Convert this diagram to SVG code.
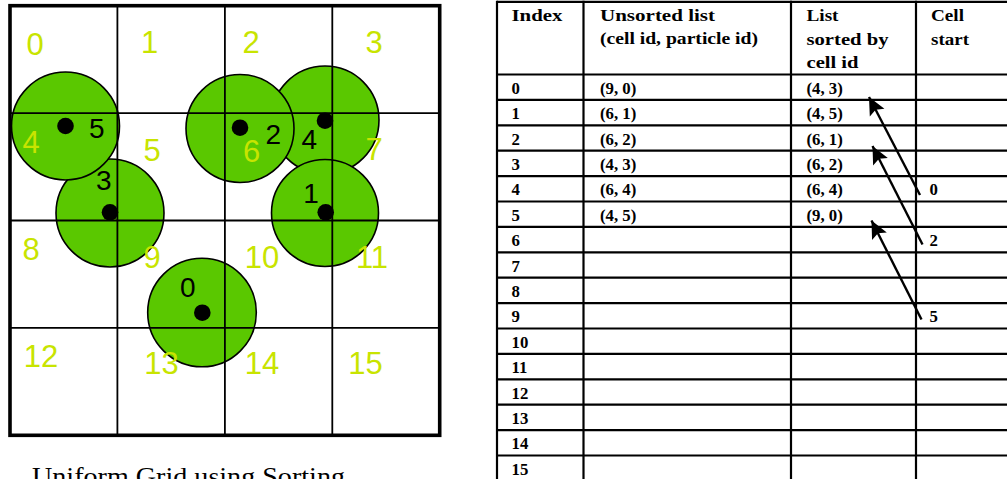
<svg xmlns="http://www.w3.org/2000/svg" width="1007" height="479" viewBox="0 0 1007 479">
<style>
.bg{fill:#ffffff}
.disc{fill:#5AC800;stroke:#000;stroke-width:1.6}
.dot{fill:#000}
.gl{stroke:#000;stroke-width:1.8;fill:none}
.gb{stroke:#000;stroke-width:3.6;fill:none}
.cl{font-family:"Liberation Sans",Arial,sans-serif;font-size:31px;fill:#C8E400;text-anchor:middle}
.pl{font-family:"Liberation Sans",Arial,sans-serif;font-size:28px;fill:#000;text-anchor:middle}
.tl{stroke:#000;stroke-width:2.2;fill:none}
.th{font-family:"Liberation Serif","Times New Roman",serif;font-size:17px;font-weight:bold;fill:#000}
.td{font-family:"Liberation Serif","Times New Roman",serif;font-size:16.8px;font-weight:bold;fill:#000}
.cap{font-family:"Liberation Serif","Times New Roman",serif;font-size:26px;fill:#000}
.arr{stroke:#000;stroke-width:2.4;fill:none;marker-end:url(#ah)}
</style>
<defs>
<marker id="ah" markerUnits="userSpaceOnUse" markerWidth="22" markerHeight="22" refX="0" refY="0" orient="auto" viewBox="-18 -9 20 18" overflow="visible">
<path d="M-16,-7.5 L0,0 L-16,7.5 L-13,0 z" fill="#000"/>
</marker>
</defs>
<rect class="bg" x="0" y="0" width="1007" height="479"/>

<g id="particles">
<g id="particle-4"><circle class="disc" cx="325" cy="120" r="54"/></g>
<g id="particle-1"><circle class="disc" cx="325" cy="213" r="53.5"/></g>
<g id="particle-2"><circle class="disc" cx="240" cy="128.5" r="54"/></g>
<g id="particle-3"><circle class="disc" cx="110" cy="213" r="54"/></g>
<g id="particle-5"><circle class="disc" cx="65.5" cy="126" r="54"/></g>
<g id="particle-0"><circle class="disc" cx="202" cy="312.5" r="54.3"/></g>
</g>

<g id="grid">
<line class="gl" x1="117.4" y1="5.7" x2="117.4" y2="435.3"/>
<line class="gl" x1="224.9" y1="5.7" x2="224.9" y2="435.3"/>
<line class="gl" x1="332.3" y1="5.7" x2="332.3" y2="435.3"/>
<line class="gl" x1="10" y1="113.1" x2="439.7" y2="113.1"/>
<line class="gl" x1="10" y1="220.5" x2="439.7" y2="220.5"/>
<line class="gl" x1="10" y1="327.9" x2="439.7" y2="327.9"/>
<rect class="gb" x="10" y="5.7" width="429.7" height="429.6"/>
</g>

<g id="cell-labels">
<text class="cl" x="35" y="55">0</text>
<text class="cl" x="149.5" y="53">1</text>
<text class="cl" x="251" y="53">2</text>
<text class="cl" x="374" y="53">3</text>
<text class="cl" x="31" y="153">4</text>
<text class="cl" x="152" y="161">5</text>
<text class="cl" x="251.7" y="162">6</text>
<text class="cl" x="374" y="160">7</text>
<text class="cl" x="31" y="259.5">8</text>
<text class="cl" x="152" y="268">9</text>
<text class="cl" x="262" y="268">10</text>
<text class="cl" x="372" y="268">11</text>
<text class="cl" x="41" y="367">12</text>
<text class="cl" x="161.5" y="374">13</text>
<text class="cl" x="262" y="374">14</text>
<text class="cl" x="365.5" y="374">15</text>
</g>

<g id="particle-marks">
<circle class="dot" cx="65.5" cy="126" r="8.3"/>
<circle class="dot" cx="110" cy="212.3" r="8.3"/>
<circle class="dot" cx="240" cy="127.7" r="8.3"/>
<circle class="dot" cx="325" cy="120.7" r="8.3"/>
<circle class="dot" cx="325.7" cy="212.3" r="8.3"/>
<circle class="dot" cx="202.3" cy="312.7" r="8.3"/>
<text class="pl" x="96.7" y="138">5</text>
<text class="pl" x="273.3" y="144">2</text>
<text class="pl" x="309.3" y="149">4</text>
<text class="pl" x="103.7" y="190">3</text>
<text class="pl" x="311" y="203">1</text>
<text class="pl" x="187.7" y="297">0</text>
</g>

<text class="cap" x="32" y="485" textLength="313" lengthAdjust="spacingAndGlyphs">Uniform Grid using Sorting</text>

<g id="table">
<g id="table-lines">
<line class="tl" x1="497" y1="1.8" x2="1007" y2="1.8"/>
<line class="tl" x1="497" y1="74.5" x2="1007" y2="74.5"/>
<line class="tl" x1="497" y1="99.9" x2="1007" y2="99.9"/>
<line class="tl" x1="497" y1="125.3" x2="1007" y2="125.3"/>
<line class="tl" x1="497" y1="150.7" x2="1007" y2="150.7"/>
<line class="tl" x1="497" y1="176.1" x2="1007" y2="176.1"/>
<line class="tl" x1="497" y1="201.5" x2="1007" y2="201.5"/>
<line class="tl" x1="497" y1="226.9" x2="1007" y2="226.9"/>
<line class="tl" x1="497" y1="252.3" x2="1007" y2="252.3"/>
<line class="tl" x1="497" y1="277.7" x2="1007" y2="277.7"/>
<line class="tl" x1="497" y1="303.1" x2="1007" y2="303.1"/>
<line class="tl" x1="497" y1="328.5" x2="1007" y2="328.5"/>
<line class="tl" x1="497" y1="353.9" x2="1007" y2="353.9"/>
<line class="tl" x1="497" y1="379.3" x2="1007" y2="379.3"/>
<line class="tl" x1="497" y1="404.7" x2="1007" y2="404.7"/>
<line class="tl" x1="497" y1="430.1" x2="1007" y2="430.1"/>
<line class="tl" x1="497" y1="455.5" x2="1007" y2="455.5"/>
<line class="tl" x1="497" y1="0.7" x2="497" y2="479"/>
<line class="tl" x1="583.5" y1="0.7" x2="583.5" y2="479"/>
<line class="tl" x1="791" y1="0.7" x2="791" y2="479"/>
<line class="tl" x1="916" y1="0.7" x2="916" y2="479"/>
</g>
<g id="table-header">
<text class="th" x="511.5" y="20.5" textLength="51" lengthAdjust="spacingAndGlyphs">Index</text>
<text class="th" x="600" y="20.5" textLength="115" lengthAdjust="spacingAndGlyphs">Unsorted list</text>
<text class="th" x="600" y="43.5" textLength="158" lengthAdjust="spacingAndGlyphs">(cell id, particle id)</text>
<text class="th" x="806.5" y="20.5" textLength="32" lengthAdjust="spacingAndGlyphs">List</text>
<text class="th" x="806.5" y="44.5" textLength="82" lengthAdjust="spacingAndGlyphs">sorted by</text>
<text class="th" x="806.5" y="68" textLength="52" lengthAdjust="spacingAndGlyphs">cell id</text>
<text class="th" x="931" y="20.5" textLength="33" lengthAdjust="spacingAndGlyphs">Cell</text>
<text class="th" x="931" y="44.5" textLength="38" lengthAdjust="spacingAndGlyphs">start</text>
</g>
<g id="table-index">
<text class="td" x="511.5" y="93.8">0</text>
<text class="td" x="511.5" y="119.2">1</text>
<text class="td" x="511.5" y="144.6">2</text>
<text class="td" x="511.5" y="170">3</text>
<text class="td" x="511.5" y="195.4">4</text>
<text class="td" x="511.5" y="220.8">5</text>
<text class="td" x="511.5" y="246.2">6</text>
<text class="td" x="511.5" y="271.6">7</text>
<text class="td" x="511.5" y="297">8</text>
<text class="td" x="511.5" y="322.4">9</text>
<text class="td" x="511.5" y="347.8">10</text>
<text class="td" x="511.5" y="373.2">11</text>
<text class="td" x="511.5" y="398.6">12</text>
<text class="td" x="511.5" y="424">13</text>
<text class="td" x="511.5" y="449.4">14</text>
<text class="td" x="511.5" y="474.8">15</text>
</g>
<g id="table-unsorted">
<text class="td" x="600" y="93.8">(9, 0)</text>
<text class="td" x="600" y="119.2">(6, 1)</text>
<text class="td" x="600" y="144.6">(6, 2)</text>
<text class="td" x="600" y="170">(4, 3)</text>
<text class="td" x="600" y="195.4">(6, 4)</text>
<text class="td" x="600" y="220.8">(4, 5)</text>
</g>
<g id="table-sorted">
<text class="td" x="806.5" y="93.8">(4, 3)</text>
<text class="td" x="806.5" y="119.2">(4, 5)</text>
<text class="td" x="806.5" y="144.6">(6, 1)</text>
<text class="td" x="806.5" y="170">(6, 2)</text>
<text class="td" x="806.5" y="195.4">(6, 4)</text>
<text class="td" x="806.5" y="220.8">(9, 0)</text>
</g>
<g id="table-cellstart">
<text class="td" x="929.5" y="195.4">0</text>
<text class="td" x="929.5" y="246.2">2</text>
<text class="td" x="929.5" y="322.4">5</text>
</g>
</g>

<g id="connectors">
<path class="arr" d="M920,195 L869,97"/>
<path class="arr" d="M922.5,244.5 L872.5,146"/>
<path class="arr" d="M921.5,319.5 L871.5,220.5"/>
</g>
</svg>
